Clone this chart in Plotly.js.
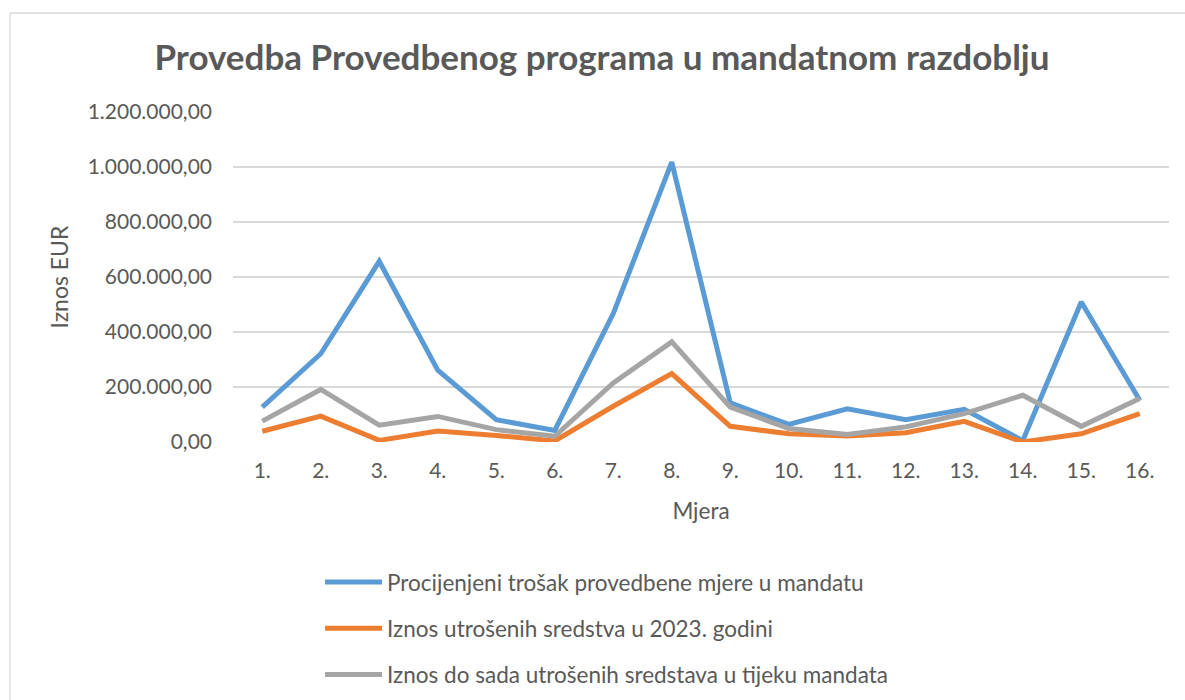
<!DOCTYPE html>
<html>
<head>
<meta charset="utf-8">
<script src="https://cdn.plot.ly/plotly-3.0.1.min.js"></script>
<style>
html,body{margin:0;padding:0;background:#fff;}
#chart{width:1185px;height:700px;}
</style>
</head>
<body>
<div id="chart"></div>
<script>
const categories = ["1.","2.","3.","4.","5.","6.","7.","8.","9.","10.","11.","12.","13.","14.","15.","16."];
const seriesNames = [
  "Procijenjeni trošak provedbene mjere u mandatu",
  "Iznos utrošenih sredstva u 2023. godini",
  "Iznos do sada utrošenih sredstava u tijeku mandata"
];
const procijenjeni = [127000, 321000, 657000, 261000, 81000, 42000, 467000, 1018000, 142000, 64000, 121000, 81000, 119000, 5000, 509000, 152000];
const utroseno2023 = [39000, 94000, 6000, 40000, 24000, 4000, 130000, 249000, 57000, 30000, 22000, 34000, 75000, 0, 30000, 103000];
const utrosenoMandat = [76000, 191000, 61000, 93000, 45000, 21000, 215000, 364000, 127000, 49000, 27000, 55000, 103000, 170000, 57000, 158000];
const colors = ["#5B9BD5", "#ED7D31", "#A5A5A5"];

const txt = "#595959";
const font = "Lato, 'Open Sans', sans-serif";
const values = [procijenjeni, utroseno2023, utrosenoMandat];
const traces = values.map((v, i) => ({
  type: "scatter", mode: "lines", x: categories, y: v, name: seriesNames[i],
  legendgroup: "g" + i,
  line: {color: colors[i], width: 5}
}));

const layout = {
  width: 1185, height: 700,
  margin: {l: 233, r: 16, t: 112, b: 258},
  paper_bgcolor: "#fff", plot_bgcolor: "#fff",
  separators: ",.",
  font: {family: font, color: txt, size: 21},
  title: {text: "<b>Provedba Provedbenog programa u mandatnom razdoblju</b>", x: 0.508, xanchor: "center", y: 0.917, yanchor: "middle", font: {size: 35, color: txt, family: font}},
  xaxis: {
    type: "category", range: [-0.5, 15.5], showgrid: false, zeroline: false,
    showline: false, ticks: "", tickfont: {size: 21, color: txt}, ticklabelstandoff: 14,
    title: {text: "Mjera", font: {size: 22.5, color: txt}, standoff: 22}
  },
  yaxis: {
    range: [0, 1200000], dtick: 200000, tickformat: ",.2f", showgrid: true,
    gridcolor: "#d9d9d9", gridwidth: 1.3, zeroline: false, showline: false, ticks: "",
    tickfont: {size: 21, color: txt}, ticklabelstandoff: 20,
    title: {text: "Iznos EUR", font: {size: 23, color: txt}, standoff: 12}
  },
  showlegend: true,
  legend: {x: 0.093, xanchor: "left", yref: "container", y: 0.1986, yanchor: "top", orientation: "v",
    itemwidth: 57, tracegroupgap: 14, font: {size: 22.5, color: txt}, bgcolor: "rgba(0,0,0,0)"},
  shapes: [
    {type: "line", xref: "paper", yref: "paper", x0: -0.2382, x1: 1.02, y0: 1.3, y1: 1.3, line: {color: "#d9d9d9", width: 1.3}},
    {type: "line", xref: "paper", yref: "paper", x0: -0.2382, x1: -0.2382, y0: 1.3, y1: -0.9, line: {color: "#d9d9d9", width: 1.3}}
  ]
};
Plotly.newPlot("chart", traces, layout, {displayModeBar: false, staticPlot: true});
</script>
</body>
</html>
